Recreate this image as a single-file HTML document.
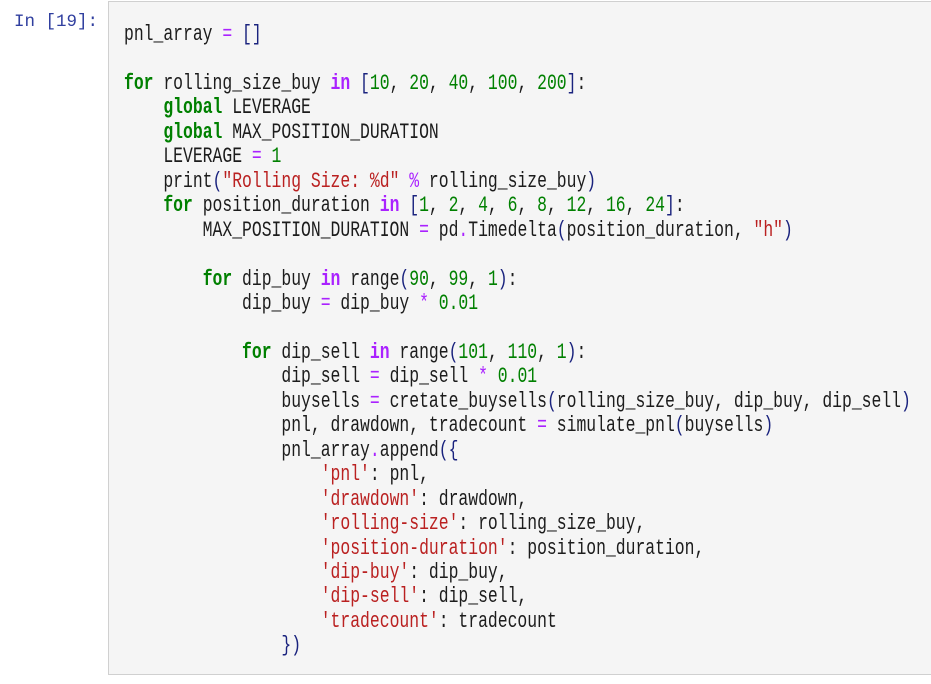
<!DOCTYPE html>
<html><head><meta charset="utf-8"><style>
html,body{margin:0;padding:0;background:#fff;width:931px;height:684px;overflow:hidden}
.prompt{position:absolute;left:14px;top:10px;font-family:"Liberation Mono",monospace;font-size:17.5px;color:#303f9f;line-height:24px}
.box{position:absolute;left:108px;top:1px;width:830px;height:674px;background:#f5f5f5;border:1px solid #d0d0d0;box-sizing:border-box}
pre{position:absolute;left:124px;top:23px;margin:0;font-family:"Liberation Mono",monospace;font-size:22px;line-height:24.45px;color:#1c1c1c;transform:scaleX(0.745);transform-origin:0 0;white-space:pre}
.k{color:#008000;font-weight:bold}.o{color:#aa22ff;font-weight:bold}.n{color:#008000}.s{color:#ba2121}.p{color:#1a237e}.e{color:#aa22ff}
</style></head><body>
<div class="prompt">In [19]:</div>
<div class="box"></div>
<pre>pnl_array <span class="e">=</span> <span class="p">[]</span>

<span class="k">for</span> rolling_size_buy <span class="o">in</span> <span class="p">[</span><span class="n">10</span>, <span class="n">20</span>, <span class="n">40</span>, <span class="n">100</span>, <span class="n">200</span><span class="p">]</span>:
    <span class="k">global</span> LEVERAGE
    <span class="k">global</span> MAX_POSITION_DURATION
    LEVERAGE <span class="e">=</span> <span class="n">1</span>
    print<span class="p">(</span><span class="s">"Rolling Size: %d"</span> <span class="e">%</span> rolling_size_buy<span class="p">)</span>
    <span class="k">for</span> position_duration <span class="o">in</span> <span class="p">[</span><span class="n">1</span>, <span class="n">2</span>, <span class="n">4</span>, <span class="n">6</span>, <span class="n">8</span>, <span class="n">12</span>, <span class="n">16</span>, <span class="n">24</span><span class="p">]</span>:
        MAX_POSITION_DURATION <span class="e">=</span> pd<span class="e">.</span>Timedelta<span class="p">(</span>position_duration, <span class="s">"h"</span><span class="p">)</span>

        <span class="k">for</span> dip_buy <span class="o">in</span> range<span class="p">(</span><span class="n">90</span>, <span class="n">99</span>, <span class="n">1</span><span class="p">)</span>:
            dip_buy <span class="e">=</span> dip_buy <span class="e">*</span> <span class="n">0.01</span>

            <span class="k">for</span> dip_sell <span class="o">in</span> range<span class="p">(</span><span class="n">101</span>, <span class="n">110</span>, <span class="n">1</span><span class="p">)</span>:
                dip_sell <span class="e">=</span> dip_sell <span class="e">*</span> <span class="n">0.01</span>
                buysells <span class="e">=</span> cretate_buysells<span class="p">(</span>rolling_size_buy, dip_buy, dip_sell<span class="p">)</span>
                pnl, drawdown, tradecount <span class="e">=</span> simulate_pnl<span class="p">(</span>buysells<span class="p">)</span>
                pnl_array<span class="e">.</span>append<span class="p">({</span>
                    <span class="s">'pnl'</span>: pnl,
                    <span class="s">'drawdown'</span>: drawdown,
                    <span class="s">'rolling-size'</span>: rolling_size_buy,
                    <span class="s">'position-duration'</span>: position_duration,
                    <span class="s">'dip-buy'</span>: dip_buy,
                    <span class="s">'dip-sell'</span>: dip_sell,
                    <span class="s">'tradecount'</span>: tradecount
                <span class="p">})</span></pre>
</body></html>
